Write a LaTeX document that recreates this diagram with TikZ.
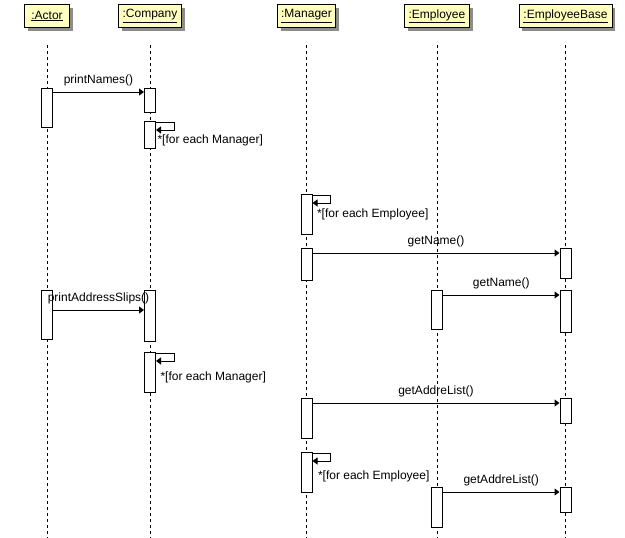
\documentclass[tikz,border=0pt]{standalone}
\usepackage{fontspec}
\setmainfont{Liberation Sans}
\usetikzlibrary{positioning,arrows.meta,shadows}
\definecolor{headfill}{HTML}{FFFFC0}

\begin{document}
\begin{tikzpicture}[x=1pt, y=-1pt, line width=1pt, font=\fontsize{12}{14}\selectfont,
 head/.style={draw, fill=headfill, minimum height=23pt, inner sep=0pt,
   drop shadow={shadow xshift=3pt, shadow yshift=-3pt, fill=black!45, opacity=1}},
 life/.style={dash pattern=on 3pt off 3pt, shorten <=17pt},
 act/.style={draw, fill=white, minimum width=11pt, inner sep=0pt, anchor=north},
 msg/.style={-{Triangle[length=5pt,width=7pt]}},
 lbl/.style={above=6pt, inner sep=0pt},
 note/.style={anchor=west, inner sep=0pt}]
 \useasboundingbox (0,0) rectangle (625,538);
 \coordinate (bottom) at (0,538);
 % lifeline heads
 \node[head, minimum width=45pt] (actor) at (47,16) {\underline{:Actor}};
 \node[head, minimum width=63pt] (company) at (150,16) {\underline{:Company}};
 \node[head, minimum width=58pt] (manager) at (306.5,16) {\underline{:Manager}};
 \node[head, minimum width=65pt] (employee) at (437,16) {\underline{:Employee}};
 \node[head, minimum width=93pt] (base) at (565.5,16) {\underline{:EmployeeBase}};
 \foreach \h in {actor,company,manager,employee,base}
  \draw[life] (\h.south) -- (\h.south |- bottom);
 % activations
 \node[act, minimum height=39pt] (a1) at (actor |- 0,88) {};
 \node[act, minimum height=24pt] (c1) at (company |- 0,88) {};
 \node[act, minimum height=27pt] (c2) at (company |- 0,121) {};
 \node[act, minimum height=40pt] (m1) at (manager |- 0,194) {};
 \node[act, minimum height=32pt] (m2) at (manager |- 0,248) {};
 \node[act, minimum height=30pt] (b1) at (base |- 0,248) {};
 \node[act, minimum height=39pt] (e1) at (employee |- 0,290) {};
 \node[act, minimum height=42pt] (b2) at (base |- 0,290) {};
 \node[act, minimum height=49pt] (a2) at (actor |- 0,290) {};
 \node[act, minimum height=51pt] (c3) at (company |- 0,290) {};
 \node[act, minimum height=40pt] (c4) at (company |- 0,352) {};
 \node[act, minimum height=40pt] (m3) at (manager |- 0,398) {};
 \node[act, minimum height=25pt] (b3) at (base |- 0,398) {};
 \node[act, minimum height=40pt] (m4) at (manager |- 0,452) {};
 \node[act, minimum height=40pt] (e2) at (employee |- 0,487) {};
 \node[act, minimum height=25pt] (b4) at (base |- 0,487) {};
 % messages
 \draw[msg] ([yshift=-4pt]a1.north east) -- node[lbl] {printNames()} ([yshift=-4pt]c1.north west);
 \draw[msg] ([yshift=-5pt]m2.north east) -- node[lbl] {getName()} ([yshift=-5pt]b1.north west);
 \draw[msg] ([yshift=-5pt]e1.north east) -- node[lbl] {getName()} ([yshift=-5pt]b2.north west);
 \draw[msg] ([yshift=-20pt]a2.north east) -- node[lbl] {printAddressSlips()} ([yshift=-20pt]c3.north west);
 \draw[msg] ([yshift=-5pt]m3.north east) -- node[lbl] {getAddreList()} ([yshift=-5pt]b3.north west);
 \draw[msg] ([yshift=-5pt]e2.north east) -- node[lbl] {getAddreList()} ([yshift=-5pt]b4.north west);
 % self calls
 \draw[msg] ([yshift=-1pt]c2.north east) -- ++(18,0) -- ++(0,8) -- ([yshift=-9pt]c2.north east);
 \draw[msg] ([yshift=-1pt]m1.north east) -- ++(18,0) -- ++(0,8) -- ([yshift=-9pt]m1.north east);
 \draw[msg] ([yshift=-1pt]c4.north east) -- ++(18,0) -- ++(0,8) -- ([yshift=-9pt]c4.north east);
 \draw[msg] ([yshift=-1pt]m4.north east) -- ++(18,0) -- ++(0,8) -- ([yshift=-9pt]m4.north east);
 \node[note] (n1) at ([xshift=1pt,yshift=-19pt]c2.north east) {*[for each Manager]};
 \node[note] (n2) at ([xshift=4pt,yshift=-20pt]m1.north east) {*[for each Employee]};
 \node[note] (n3) at ([xshift=4pt,yshift=-25pt]c4.north east) {*[for each Manager]};
 \node[note] (n4) at ([xshift=5pt,yshift=-24pt]m4.north east) {*[for each Employee]};
\end{tikzpicture}
\end{document}
